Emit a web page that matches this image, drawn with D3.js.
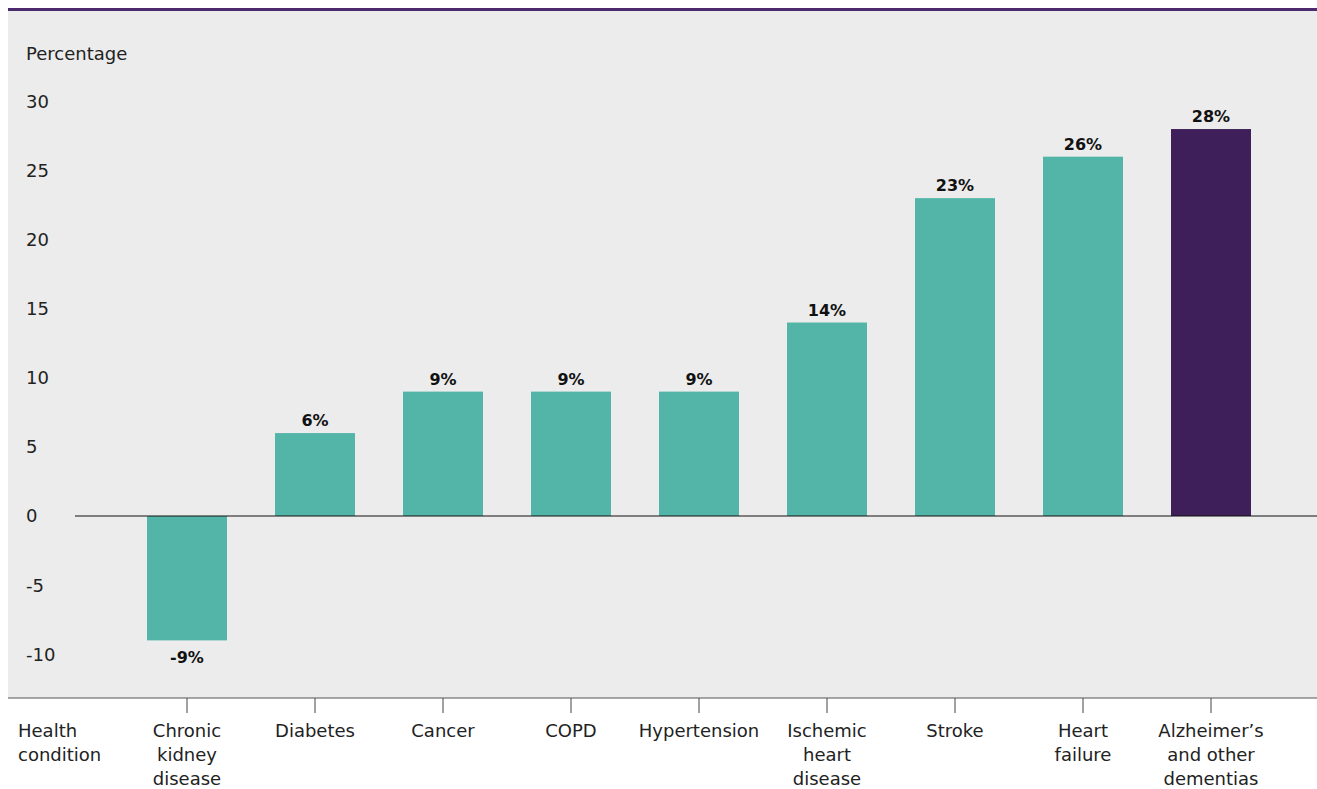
<!DOCTYPE html>
<html><head><meta charset="utf-8">
<script src="https://cdn.jsdelivr.net/npm/d3@7"></script>
<style>body{margin:0;background:#fff}svg{display:block}</style>
</head><body>
<script>
const categories = ["Chronic kidney disease","Diabetes","Cancer","COPD","Hypertension","Ischemic heart disease","Stroke","Heart failure","Alzheimer’s and other dementias"];
const categoryLines = [["Chronic","kidney","disease"],["Diabetes"],["Cancer"],["COPD"],["Hypertension"],["Ischemic","heart","disease"],["Stroke"],["Heart","failure"],["Alzheimer’s","and other","dementias"]];
const values = [-9, 6, 9, 9, 9, 14, 23, 26, 28];
const highlighted = [false,false,false,false,false,false,false,false,true];
const yTicks = [30,25,20,15,10,5,0,-5,-10];

const W = 1317, H = 789;
const FONT = "'DejaVu Sans', 'Open Sans', sans-serif";
const FS = 18;
const svg = d3.select("body").append("svg").attr("width", W).attr("height", H);

// panel
svg.append("rect").attr("x", 8).attr("y", 10).attr("width", W - 8).attr("height", 688).attr("fill", "#ececec");
svg.append("rect").attr("x", 8).attr("y", 8).attr("width", W - 8).attr("height", 3).attr("fill", "#4b2a6e");

const x = d3.scaleBand().domain(categories).range([123, 1275]).paddingInner(0.375).paddingOuter(0.1875);
const y = d3.scaleLinear().domain([-10, 30]).range([654.2, 101.4]);

// y axis labels
svg.append("g").selectAll("text").data(yTicks).join("text")
  .attr("x", 26).attr("y", d => y(d)).attr("dy", "0.36em")
  .attr("font-family", FONT).attr("font-size", FS).attr("fill", "#222")
  .text(d => d);
svg.append("text").attr("x", 26).attr("y", 60).attr("font-family", FONT).attr("font-size", FS).attr("fill", "#222").text("Percentage");

// bars
svg.append("g").selectAll("rect").data(values).join("rect")
  .attr("x", (d, i) => x(categories[i]))
  .attr("width", x.bandwidth())
  .attr("y", d => y(Math.max(0, d)))
  .attr("height", d => Math.abs(y(d) - y(0)))
  .attr("fill", (d, i) => highlighted[i] ? "#3f1f5a" : "#52b5a8");

// zero line
svg.append("line").attr("x1", 75).attr("x2", W).attr("y1", y(0)).attr("y2", y(0)).attr("stroke", "#111").attr("stroke-width", 1.2);

// value labels
svg.append("g").selectAll("text").data(values).join("text")
  .attr("x", (d, i) => x(categories[i]) + x.bandwidth() / 2)
  .attr("y", d => d >= 0 ? y(d) - 7 : y(d) + 23)
  .attr("text-anchor", "middle")
  .attr("font-family", FONT).attr("font-size", 16).attr("font-weight", "bold").attr("fill", "#111")
  .text(d => d + "%");

// bottom axis
const xAxis = d3.axisBottom(x).tickSize(15).tickFormat("");
const gx = svg.append("g").attr("transform", "translate(0,698)").call(xAxis);
gx.select(".domain").remove();
gx.selectAll(".tick line").attr("stroke", "#444");
svg.append("line").attr("x1", 8).attr("x2", W).attr("y1", 698).attr("y2", 698).attr("stroke", "#555").attr("stroke-width", 1.2);

// category labels
const lab = svg.append("g").selectAll("text").data(categoryLines).join("text")
  .attr("x", (d, i) => x(categories[i]) + x.bandwidth() / 2)
  .attr("y", 737).attr("text-anchor", "middle")
  .attr("font-family", FONT).attr("font-size", FS).attr("fill", "#222");
lab.selectAll("tspan").data(d => d).join("tspan")
  .attr("x", function() { return this.parentNode.getAttribute("x"); })
  .attr("dy", (d, i) => i === 0 ? 0 : 24).text(d => d);

const hc = svg.append("text").attr("x", 18).attr("y", 737).attr("font-family", FONT).attr("font-size", FS).attr("fill", "#222");
hc.append("tspan").attr("x", 18).text("Health");
hc.append("tspan").attr("x", 18).attr("dy", 24).text("condition");
</script>
</body></html>
